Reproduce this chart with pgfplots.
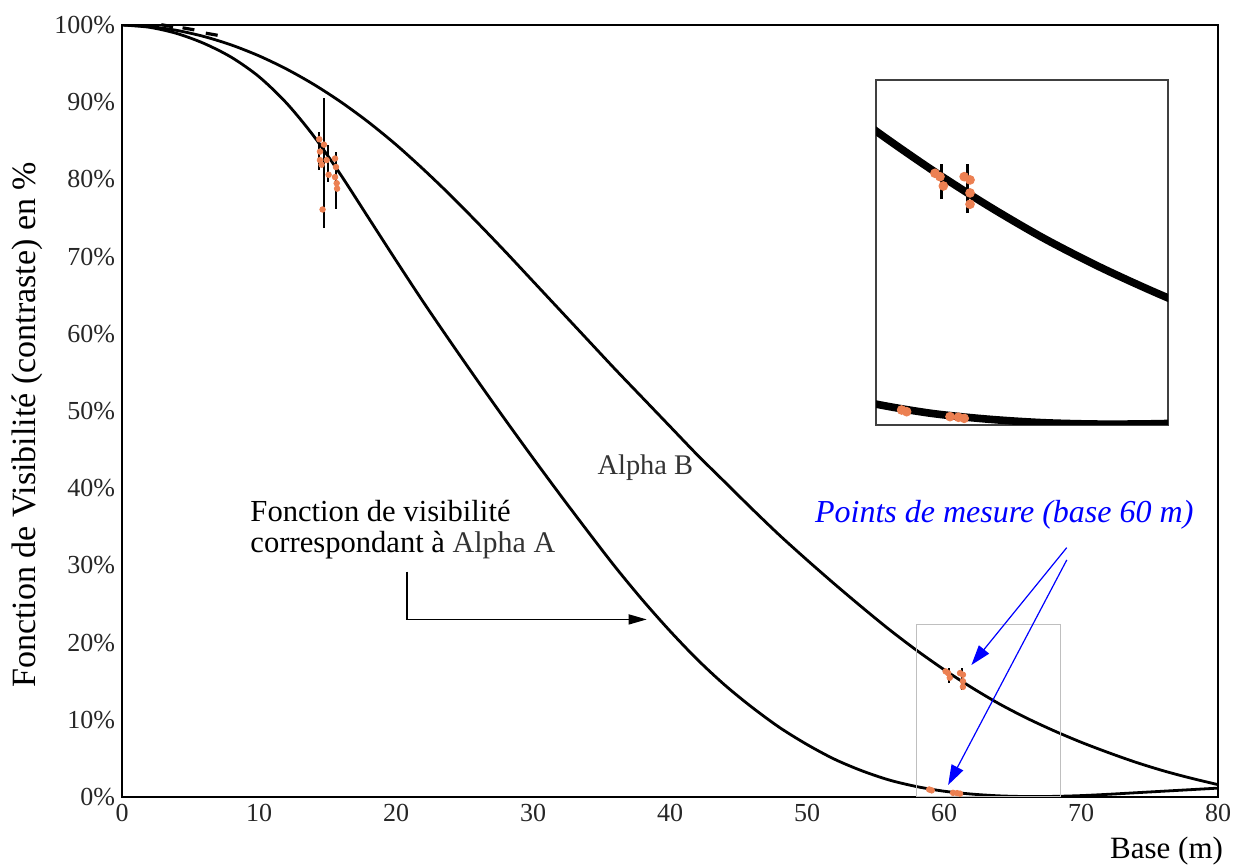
\documentclass[border=0pt]{standalone}
\usepackage{fontspec}
\setmainfont{Liberation Serif}
\usepackage{pgfplots}
\usepackage{pgfplotstable}
\pgfplotsset{compat=1.18}
\usetikzlibrary{arrows.meta}
\definecolor{pt}{RGB}{236,128,82}

% courbes (base en m, visibilite en %)
\pgfplotstableread{
x y
0 100
2 99.7
4 98.9
6 97.6
8 95.8
10 93.3
12 89.9
14 85.6
16 80.5
18 75.0
20 69.5
22 64.1
24 58.9
26 53.8
28 48.8
30 43.9
32 39.1
34 34.4
36 29.8
38 25.5
40 21.5
42 17.8
44 14.5
46 11.6
48 9.0
50 6.8
52 4.9
54 3.4
56 2.2
58 1.35
60 0.75
62 0.38
64 0.15
66 0.06
68 0.08
70 0.18
72 0.35
74 0.55
76 0.75
78 0.95
80 1.15
}\curveA

\pgfplotstableread{
x y
0 100
2 99.8
4 99.3
6 98.5
8 97.4
10 96.0
12 94.3
14 92.3
16 90.0
18 87.4
20 84.5
22 81.3
24 77.9
26 74.3
28 70.6
30 66.8
32 63.0
34 59.2
36 55.4
38 51.7
40 48.0
42 44.3
44 40.8
46 37.3
48 33.9
50 30.7
52 27.6
54 24.6
56 21.7
58 19.0
60 16.5
62 14.2
64 12.1
66 10.25
68 8.6
70 7.1
72 5.75
74 4.5
76 3.4
78 2.45
80 1.6
}\curveB

% mesures base 15 m
\pgfplotstableread{
x y
14.40 85.2
14.45 83.6
14.45 82.5
14.57 81.9
14.74 84.5
14.94 82.5
15.08 80.6
14.64 76.1
15.55 82.7
15.62 81.6
15.55 80.3
15.67 79.5
15.70 78.8
}\ptsA

% mesures base 60 m
\pgfplotstableread{
x y
60.12 16.27
60.30 16.05
60.42 15.45
61.17 16.05
61.38 15.84
61.38 15.00
61.38 14.27
58.92 0.97
59.10 0.86
60.66 0.54
60.96 0.50
61.17 0.43
}\ptsB

\begin{document}
\begin{tikzpicture}
\begin{axis}[
  at={(0,0)}, anchor=south west,
  scale only axis, width=548pt, height=386pt,
  xmin=0, xmax=80, ymin=0, ymax=100,
  xtick={0,10,...,80}, ytick={0,10,...,100},
  yticklabel={\pgfmathprintnumber{\tick}\%},
  /pgf/number format/assume math mode=true,
  major tick length=0pt,
  tick label style={font=\fontsize{13}{13}\selectfont, text=black!85},
  axis line style={line width=0.9pt},
  ylabel={Fonction de Visibilité (contraste) en \%},
  ylabel style={font=\fontsize{17}{17}\selectfont, at={(axis description cs:-0.0867,0.482)}, anchor=center, rotate=0},
  xlabel={Base (m)},
  xlabel style={font=\fontsize{15.5}{15.5}\selectfont, at={(axis description cs:1.011,-0.042)}, anchor=north east},
]
\addplot[black, line width=1.4pt, smooth, mark=none] table {\curveA};
\addplot[black, line width=1.4pt, smooth, mark=none] table {\curveB};
% petits traits en haut a gauche
\addplot[only marks, mark=-, mark size=3pt, mark options={line width=1.6pt, rotate=-10}] coordinates {(3.3,99.9) (4.85,99.5) (6.55,98.8)};
% barres d'erreur
\addplot[black, line width=1pt, unbounded coords=jump] coordinates {
 (14.38,81.2) (14.38,86.2) (nan,nan)
 (14.74,73.7) (14.74,90.6) (nan,nan)
 (15.06,79.7) (15.06,84.4) (nan,nan)
 (15.62,76.2) (15.62,83.6) (nan,nan)
 (60.34,14.8) (60.34,16.7) (nan,nan)
 (61.28,13.9) (61.28,16.7)};
\addplot[only marks, color=pt, mark=*, mark size=1.4pt, mark options={fill=pt, draw=pt}] table {\ptsA};
\addplot[only marks, color=pt, mark=*, mark size=1.4pt, mark options={fill=pt, draw=pt}] table {\ptsB};
% zone agrandie
\draw[black!25, line width=0.6pt] (axis cs:58,0) rectangle (axis cs:68.5,22.3);
% annotations
\node[anchor=north west, align=left, inner sep=0pt, font=\fontsize{15.3}{15.5}\selectfont] at (axis cs:9.35,38.5)
  {Fonction de visibilité\\correspondant à \textcolor{black!80}{\fontsize{15}{15.5}\selectfont Alpha A}};
\node[font=\fontsize{14.2}{14}\selectfont, text=black!80] at (axis cs:38.2,42.7) {Alpha B};
\draw[line width=0.7pt, -{Triangle[length=9pt,width=5pt]}] (axis cs:20.8,29.2) |- (axis cs:38.3,23.0);
\node[font=\fontsize{16}{16}\selectfont\itshape, text=blue] at (axis cs:64.4,36.5) {Points de mesure (base 60 m)};
\draw[blue, line width=0.6pt, -{Triangle[length=10pt,width=6.5pt]}] (axis cs:68.96,32.3) -- (axis cs:62.0,17.1);
\draw[blue, line width=0.6pt, -{Triangle[length=10pt,width=6.5pt]}] (axis cs:68.96,30.7) -- (axis cs:60.3,1.55);
\end{axis}

% encart
\begin{axis}[
  at={(377pt,186pt)}, anchor=south west,
  scale only axis, width=146pt, height=172.5pt,
  xmin=58, xmax=68.5, ymin=0, ymax=22.3,
  ticks=none,
  axis background/.style={fill=white},
  axis line style={black!75, line width=0.7pt},
]
\addplot[black, line width=3.8pt, smooth, mark=none] table {\curveA};
\addplot[black, line width=3.8pt, smooth, mark=none] table {\curveB};
\addplot[black, line width=1.5pt, unbounded coords=jump] coordinates {
 (60.34,14.6) (60.34,16.9) (nan,nan)
 (61.28,13.7) (61.28,16.9)};
\addplot[only marks, color=pt, mark=*, mark size=2.2pt, mark options={fill=pt, draw=pt}] table {\ptsB};
\end{axis}

\pgfresetboundingbox
\path[use as bounding box] (-61pt,-34pt) rectangle (556.5pt,398.5pt);
\end{tikzpicture}
\end{document}
